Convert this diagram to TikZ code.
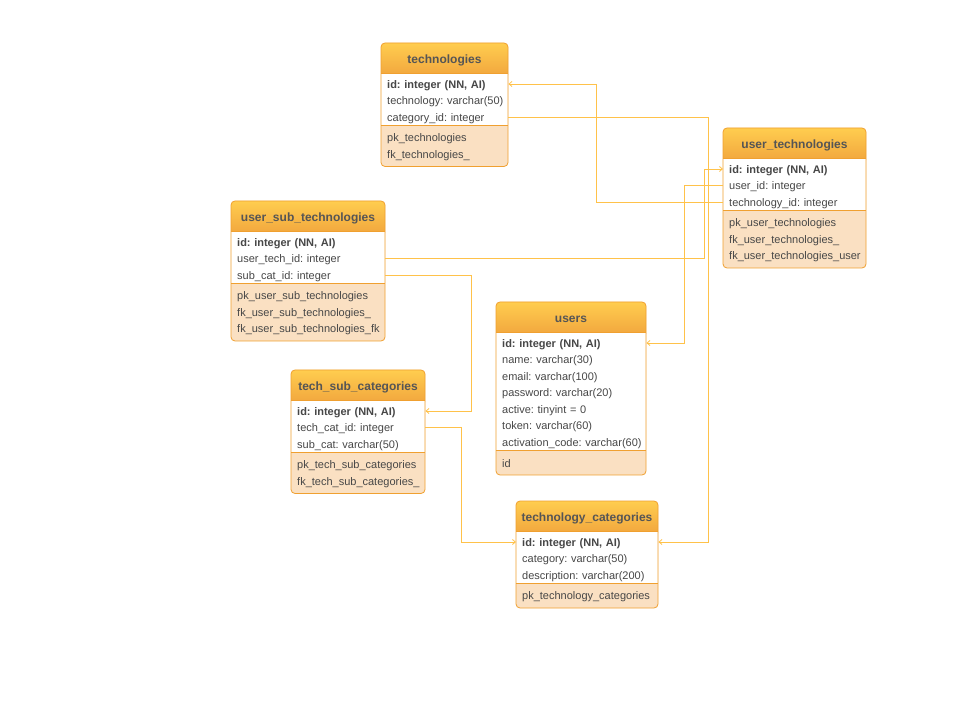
\documentclass[tikz,border=0pt]{standalone}
\usepackage{fontspec}
\setmainfont{Liberation Sans}
\usetikzlibrary{arrows.meta}
\definecolor{hdtop}{HTML}{FFCD4F}
\definecolor{hdbot}{HTML}{F0A23C}
\definecolor{bdcol}{HTML}{F0A030}
\definecolor{ftfill}{HTML}{FAE0C2}
\definecolor{lncol}{HTML}{FFC24A}
\definecolor{txtcol}{HTML}{474747}
\definecolor{hdtxt}{HTML}{555555}
\tikzset{
  hdtxt/.style={font=\fontsize{12}{14}\selectfont\bfseries, text=hdtxt, inner sep=0pt},
  rowtxt/.style={font=\fontsize{11}{13}\selectfont, text=txtcol, anchor=west, inner xsep=6pt, inner ysep=0pt, align=left},
  conn/.style={draw=lncol, line width=0.8pt, -{Straight Barb[length=3pt,width=5pt]}}
}
\newcommand\ertable[9]{%
  \pgfmathsetmacro\erhb{#4+30}%
  \pgfmathsetmacro\ersep{\erhb+16.5*#6+3}%
  \pgfmathsetmacro\erbt{\ersep+16.5*#8+8}%
  \pgfmathsetmacro\ertw{#3-#2-12}%
  \fill[ftfill, rounded corners=4pt] (#2,#4) rectangle (#3,\erbt);
  \shade[top color=hdtop, bottom color=hdbot, rounded corners=4pt] (#2,#4) rectangle (#3,\erhb+6);
  \fill[white] (#2,\erhb) rectangle (#3,\ersep);
  \draw[bdcol, line width=0.8pt] (#2,\erhb) -- (#3,\erhb) (#2,\ersep) -- (#3,\ersep);
  \draw[bdcol, line width=0.8pt, rounded corners=4pt] (#2,#4) rectangle (#3,\erbt);
  \node[hdtxt] (#1) at ({(#2+#3)/2},{#4+17.5}) {#5};
  \foreach \r [count=\i] in {#7} {\node[rowtxt, text width=\ertw pt] (#1-\i) at (#2,{\erhb+12.5+16.5*(\i-1)}) {\mbox{\r}};}
  \foreach \r [count=\i] in {#9} {\node[rowtxt, text width=\ertw pt] (#1-f\i) at (#2,{\ersep+13.5+16.5*(\i-1)}) {\mbox{\r}};}
}
\begin{document}
\frenchspacing
\begin{tikzpicture}[x=1pt,y=-1pt]
\useasboundingbox (0,0) rectangle (967,708);
\fill[white] (0,0) rectangle (967,708);

\ertable{tech}{381}{508}{43}{technologies}{3}%
  {{\textbf{id: integer (NN, AI)}},technology: varchar(50),category\_id: integer}%
  {2}{pk\_technologies,fk\_technologies\_}
\ertable{ut}{723}{866}{128}{user\_technologies}{3}%
  {{\textbf{id: integer (NN, AI)}},user\_id: integer,technology\_id: integer}%
  {3}{pk\_user\_technologies,fk\_user\_technologies\_,fk\_user\_technologies\_user}
\ertable{ust}{231}{385}{201}{user\_sub\_technologies}{3}%
  {{\textbf{id: integer (NN, AI)}},user\_tech\_id: integer,sub\_cat\_id: integer}%
  {3}{pk\_user\_sub\_technologies,fk\_user\_sub\_technologies\_,fk\_user\_sub\_technologies\_fk}
\ertable{tsc}{291}{425}{370}{tech\_sub\_categories}{3}%
  {{\textbf{id: integer (NN, AI)}},tech\_cat\_id: integer,sub\_cat: varchar(50)}%
  {2}{pk\_tech\_sub\_categories,fk\_tech\_sub\_categories\_}
\ertable{users}{496}{646}{302}{users}{7}%
  {{\textbf{id: integer (NN, AI)}},name: varchar(30),email: varchar(100),password: varchar(20),active: tinyint = 0,token: varchar(60),activation\_code: varchar(60)}%
  {1}{id}
\ertable{tc}{516}{658}{501}{technology\_categories}{3}%
  {{\textbf{id: integer (NN, AI)}},category: varchar(50),description: varchar(200)}%
  {1}{pk\_technology\_categories}

\coordinate (c1) at (708,0);
\coordinate (c2) at (596,0);
\coordinate (c3) at (684,0);
\coordinate (c4) at (704,0);
\coordinate (c5) at (471,0);
\coordinate (c6) at (461,0);

\begin{scope}[every coordinate/.style={}, conn]
\draw[conn] ([yshift=1.5pt]tech-3.east) -| ([yshift=1.5pt]c1 |- tc-1.east) -- ([yshift=1.5pt]tc-1.east);
\draw[conn] ([yshift=1.5pt]ut-3.west) -| ([yshift=1.5pt]c2 |- tech-1.east) -- ([yshift=1.5pt]tech-1.east);
\draw[conn] ([yshift=1.5pt]ut-2.west) -| ([yshift=1.5pt]c3 |- users-1.east) -- ([yshift=1.5pt]users-1.east);
\draw[conn] ([yshift=1.5pt]ust-2.east) -| ([yshift=1.5pt]c4 |- ut-1.west) -- ([yshift=1.5pt]ut-1.west);
\draw[conn] ([yshift=1.5pt]ust-3.east) -| ([yshift=1.5pt]c5 |- tsc-1.east) -- ([yshift=1.5pt]tsc-1.east);
\draw[conn] ([yshift=1.5pt]tsc-2.east) -| ([yshift=1.5pt]c6 |- tc-1.west) -- ([yshift=1.5pt]tc-1.west);
\end{scope}
\end{tikzpicture}
\end{document}
